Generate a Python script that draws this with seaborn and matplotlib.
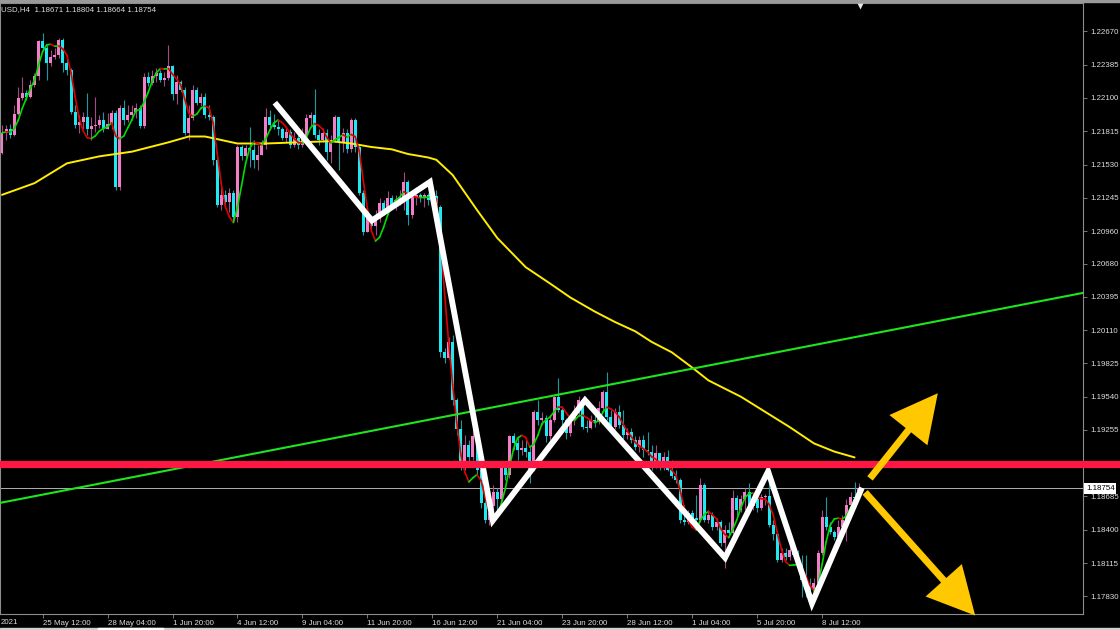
import numpy as np
import pandas as pd
import matplotlib
matplotlib.use("Agg")
import matplotlib.pyplot as plt
import matplotlib.transforms as mtransforms
from matplotlib.collections import LineCollection
from matplotlib.patches import Rectangle
import seaborn as sns

# ---------------- data (EURUSD H4) ----------------
header_text = "USD,H4  1.18671 1.18804 1.18664 1.18754"
first_open = 1.2163

closes = [
    1.2180, 1.2183, 1.2178, 1.2196, 1.2210, 1.2214, 1.2211, 1.2221, 1.2229, 1.2259,
    1.2253, 1.2240, 1.2245, 1.2247, 1.2260, 1.2240, 1.2234, 1.2198, 1.2187, 1.2189,
    1.2194, 1.2183, 1.2186, 1.2187, 1.2191, 1.2183, 1.2188, 1.2197, 1.2134, 1.2201,
    1.2191, 1.2195, 1.2198, 1.2201, 1.2186, 1.2228, 1.2223, 1.2229, 1.2231, 1.2225,
    1.2227, 1.2237, 1.2213, 1.2224, 1.2217, 1.2180, 1.2193, 1.2217, 1.2206, 1.2211,
    1.2195, 1.2194, 1.2157, 1.2118, 1.2127, 1.2121, 1.2129, 1.2108, 1.2168, 1.2160,
    1.2167, 1.2165, 1.2157, 1.2161, 1.2170, 1.2194, 1.2187, 1.2185, 1.2183, 1.2176,
    1.2181, 1.2170, 1.2176, 1.2170, 1.2177, 1.2193, 1.2195, 1.2178, 1.2174, 1.2180,
    1.2164, 1.2174, 1.2194, 1.2172, 1.2180, 1.2166, 1.2191, 1.2168, 1.2129, 1.2095,
    1.2108, 1.2100, 1.2106, 1.2120, 1.2114, 1.2124, 1.2118, 1.2123, 1.2125, 1.2138,
    1.2110, 1.2125, 1.2127, 1.2124, 1.2127, 1.2123, 1.2126, 1.2117, 1.1992, 1.1987,
    1.2001, 1.1951, 1.1926, 1.1897, 1.1913, 1.1902, 1.1920, 1.1891, 1.1863, 1.1848,
    1.1860, 1.1872, 1.1866, 1.1893, 1.1887, 1.1920, 1.1914, 1.1908, 1.1910, 1.1907,
    1.1891, 1.1941, 1.1934, 1.1936, 1.1920, 1.1934, 1.1954, 1.1943, 1.1934, 1.1923,
    1.1934, 1.1941, 1.1951, 1.1928, 1.1927, 1.1934, 1.1932, 1.1944, 1.1958, 1.1937,
    1.1928, 1.1941, 1.1930, 1.1921, 1.1924, 1.1917, 1.1911, 1.1917, 1.1908, 1.1907,
    1.1896, 1.1906, 1.1894, 1.1902, 1.1891, 1.1886, 1.1883, 1.1848, 1.1847, 1.1854,
    1.1850, 1.1848, 1.1878, 1.1848, 1.1853, 1.1842, 1.1847, 1.1829, 1.1840, 1.1837,
    1.1867, 1.1857, 1.1866, 1.1872, 1.1860, 1.1866, 1.1859, 1.1868, 1.1869, 1.1844,
    1.1836, 1.1814, 1.1820, 1.1817, 1.1823, 1.1818, 1.1810, 1.1797, 1.1793, 1.1788,
    1.1794, 1.1820, 1.1851, 1.1842, 1.1838, 1.1834, 1.1842, 1.1848, 1.1861, 1.1868,
    1.18671, 1.18754,
]

highs = [
    1.2187, 1.2187, 1.2188, 1.2204, 1.2219, 1.2228, 1.2217, 1.2225, 1.2231, 1.2260,
    1.2266, 1.2255, 1.2251, 1.2253, 1.2261, 1.2261, 1.2243, 1.2236, 1.2204, 1.2195,
    1.2198, 1.2214, 1.2194, 1.2211, 1.2195, 1.2198, 1.2197, 1.2200, 1.2200, 1.2204,
    1.2208, 1.2204, 1.2204, 1.2206, 1.2204, 1.2231, 1.2232, 1.2234, 1.2236, 1.2234,
    1.2232, 1.2255, 1.2238, 1.2230, 1.2225, 1.2219, 1.2204, 1.2221, 1.2219, 1.2214,
    1.2214, 1.2204, 1.2195, 1.2161, 1.2133, 1.2131, 1.2133, 1.2131, 1.2170, 1.2170,
    1.2170, 1.2185, 1.2174, 1.2170, 1.2174, 1.2201, 1.2200, 1.2196, 1.2191, 1.2185,
    1.2184, 1.2183, 1.2181, 1.2178, 1.2184, 1.2196, 1.2198, 1.2218, 1.2183, 1.2184,
    1.2183, 1.2178, 1.2195, 1.2193, 1.2184, 1.2183, 1.2193, 1.2193, 1.2170, 1.2131,
    1.2112, 1.2110, 1.2114, 1.2124, 1.2123, 1.2130, 1.2127, 1.2127, 1.2131, 1.2147,
    1.2140, 1.2127, 1.2131, 1.2129, 1.2129, 1.2129, 1.2129, 1.2131, 1.2118, 1.1996,
    1.2005, 1.2007, 1.1953, 1.1934, 1.1921, 1.1917, 1.1926, 1.1921, 1.1896, 1.1870,
    1.1874, 1.1878, 1.1876, 1.1896, 1.1898, 1.1921, 1.1923, 1.1920, 1.1917, 1.1917,
    1.1913, 1.1943, 1.1951, 1.1941, 1.1938, 1.1938, 1.1955, 1.1970, 1.1944, 1.1936,
    1.1938, 1.1947, 1.1955, 1.1953, 1.1934, 1.1938, 1.1941, 1.1950, 1.1960, 1.1975,
    1.1943, 1.1944, 1.1947, 1.1943, 1.1927, 1.1927, 1.1920, 1.1920, 1.1921, 1.1924,
    1.1913, 1.1913, 1.1904, 1.1907, 1.1908, 1.1900, 1.1891, 1.1884, 1.1861, 1.1857,
    1.1857, 1.1870, 1.1884, 1.1880, 1.1857, 1.1855, 1.1850, 1.1848, 1.1844, 1.1847,
    1.1874, 1.1870, 1.1870, 1.1876, 1.1880, 1.1870, 1.1869, 1.1871, 1.1871, 1.1893,
    1.1848, 1.1838, 1.1824, 1.1824, 1.1827, 1.1827, 1.1823, 1.1818, 1.1818, 1.1799,
    1.1799, 1.1823, 1.1857, 1.1868, 1.1847, 1.1840, 1.1848, 1.1853, 1.1866, 1.1872,
    1.1881, 1.18804,
]

lows = [
    1.2162, 1.2174, 1.2176, 1.2177, 1.2195, 1.2208, 1.2208, 1.2210, 1.2219, 1.2225,
    1.2251, 1.2225, 1.2237, 1.2243, 1.2244, 1.2232, 1.2230, 1.2196, 1.2184, 1.2180,
    1.2183, 1.2178, 1.2174, 1.2181, 1.2184, 1.2181, 1.2183, 1.2183, 1.2131, 1.2131,
    1.2187, 1.2189, 1.2191, 1.2193, 1.2184, 1.2184, 1.2220, 1.2221, 1.2224, 1.2224,
    1.2220, 1.2225, 1.2208, 1.2205, 1.2215, 1.2178, 1.2174, 1.2191, 1.2204, 1.2203,
    1.2193, 1.2191, 1.2153, 1.2117, 1.2114, 1.2116, 1.2112, 1.2104, 1.2104, 1.2157,
    1.2157, 1.2151, 1.2150, 1.2148, 1.2161, 1.2166, 1.2184, 1.2183, 1.2178, 1.2174,
    1.2172, 1.2167, 1.2168, 1.2166, 1.2168, 1.2176, 1.2186, 1.2176, 1.2170, 1.2172,
    1.2157, 1.2154, 1.2172, 1.2148, 1.2164, 1.2163, 1.2164, 1.2164, 1.2127, 1.2093,
    1.2095, 1.2097, 1.2093, 1.2104, 1.2110, 1.2112, 1.2116, 1.2114, 1.2118, 1.2114,
    1.2101, 1.2107, 1.2118, 1.2121, 1.2117, 1.2118, 1.2119, 1.2115, 1.1988, 1.1983,
    1.1986, 1.1947, 1.1921, 1.1891, 1.1891, 1.1898, 1.1900, 1.1887, 1.1859, 1.1846,
    1.1844, 1.1855, 1.1857, 1.1861, 1.1883, 1.1884, 1.1908, 1.1900, 1.1904, 1.1902,
    1.1880, 1.1890, 1.1930, 1.1930, 1.1915, 1.1917, 1.1932, 1.1941, 1.1930, 1.1918,
    1.1920, 1.1930, 1.1938, 1.1926, 1.1924, 1.1926, 1.1928, 1.1931, 1.1943, 1.1934,
    1.1926, 1.1926, 1.1927, 1.1918, 1.1918, 1.1914, 1.1908, 1.1907, 1.1902, 1.1904,
    1.1891, 1.1893, 1.1891, 1.1891, 1.1890, 1.1884, 1.1880, 1.1846, 1.1844, 1.1845,
    1.1848, 1.1847, 1.1847, 1.1847, 1.1846, 1.1840, 1.1840, 1.1826, 1.1807, 1.1834,
    1.1836, 1.1853, 1.1855, 1.1857, 1.1857, 1.1857, 1.1855, 1.1857, 1.1861, 1.1842,
    1.1831, 1.1812, 1.1812, 1.1814, 1.1814, 1.1816, 1.1807, 1.1782, 1.1782, 1.1780,
    1.1782, 1.1792, 1.1818, 1.1840, 1.1836, 1.1831, 1.1831, 1.1840, 1.1830, 1.1855,
    1.1862, 1.18664,
]

# slow moving average (yellow), sampled at bar indices
yellow_ma_bar = [0, 8, 16, 24, 32, 41, 46, 50, 54, 58, 65, 73, 81, 86, 91, 96, 100,
                 105, 107, 111, 117, 122, 129, 135, 140, 146, 151, 156, 160, 165,
                 170, 174, 182, 188, 194, 200, 205, 210]
yellow_ma_val = [1.2127, 1.2137, 1.2154, 1.2160, 1.2164, 1.2172, 1.2177, 1.2177,
                 1.2174, 1.2171, 1.2171, 1.2172, 1.2173, 1.2171, 1.2168, 1.2166,
                 1.2162, 1.2159, 1.2157, 1.2144, 1.2114, 1.2090, 1.2065, 1.2051,
                 1.2039, 1.2027, 1.2018, 1.2010, 1.2001, 1.1992, 1.1979, 1.1968,
                 1.1954, 1.1941, 1.1928, 1.1914, 1.1907, 1.1902]

price_ticks = [1.22670, 1.22385, 1.22100, 1.21815, 1.21530, 1.21245, 1.20960,
               1.20680, 1.20395, 1.20110, 1.19825, 1.19540, 1.19255, 1.18970,
               1.18685, 1.18400, 1.18115, 1.17830]
time_tick_bars = [10, 26, 42, 58, 74, 90, 106, 122, 138, 154, 170, 186, 202]
time_tick_labels = ["25 May 12:00", "28 May 04:00", "1 Jun 20:00", "4 Jun 12:00",
                    "9 Jun 04:00", "11 Jun 20:00", "16 Jun 12:00", "21 Jun 04:00",
                    "23 Jun 20:00", "28 Jun 12:00", "1 Jul 04:00", "5 Jul 20:00",
                    "8 Jul 12:00"]
first_label = "2021"

trend_bars = [-0.5, 266.3]
trend_prices = [1.18630, 1.20430]
resistance_price = 1.18960
bid_price = 1.18754

zigzag_bars = [67.2, 91.1, 105.4, 120.9, 143.6, 178.1, 188.7, 199.5, 211.8]
zigzag_prices = [1.2206, 1.2105, 1.2138, 1.1848, 1.1951, 1.1816, 1.1890, 1.1777, 1.1876]

arrow_up = (213.8, 1.1884, 230.5, 1.1957)      # start bar, start price, tip bar, tip price
arrow_down = (212.6, 1.1872, 239.7, 1.17665)

# ---------------- style ----------------
sns.set_theme(style="dark")
plt.rcParams["font.family"] = ["Liberation Sans", "DejaVu Sans"]

BULL = "#f27ec8"
BEAR = "#1ee8f2"
BULL_WICK = "#a04c80"
BEAR_WICK = "#1c9aa0"
TXT = "#dcdcdc"
FRAME = "#8c8c8c"

fig = plt.figure(figsize=(11.2, 6.3), dpi=100, facecolor="black")
ax = fig.add_axes([0, 16 / 630, 1083 / 1120, 611 / 630])
ax.set_facecolor("black")

x = np.arange(len(closes))
c = np.array(closes)
o = np.array([first_open] + closes[:-1])
h = np.maximum(np.array(highs), np.maximum(o, c))
l = np.minimum(np.array(lows), np.minimum(o, c))
bull = c >= o

ax.vlines(x, l, h, colors=np.where(bull, BULL_WICK, BEAR_WICK), lw=0.8, zorder=2)
ax.bar(x, np.maximum(np.abs(c - o), 0.00009), bottom=np.minimum(o, c), width=0.74,
       color=np.where(bull, BULL, BEAR), linewidth=0, zorder=2.2)

# slow MA (yellow)
sns.lineplot(x=yellow_ma_bar, y=yellow_ma_val, ax=ax, color="#ffee00", lw=1.4,
             sort=False, estimator=None, zorder=3)


# fast Hull MA, coloured by direction
def wma(s, n):
    w = np.arange(1, n + 1, dtype=float)
    return s.rolling(n, min_periods=1).apply(
        lambda a: np.dot(a, w[-len(a):]) / w[-len(a):].sum(), raw=True)


s = pd.Series(c)
n = 10
hma = wma(2 * wma(s, n // 2) - wma(s, n), int(np.sqrt(n))).to_numpy()
pts = np.column_stack([x, hma])
segs = np.stack([pts[:-1], pts[1:]], axis=1)
seg_cols = np.where(np.diff(hma) >= 0, "#00dd00", "#e00000")
ax.add_collection(LineCollection(segs, colors=seg_cols, lw=1.2, zorder=3.2,
                                 capstyle="round", joinstyle="round"))

# green trend line
sns.lineplot(x=trend_bars, y=trend_prices, ax=ax, color="#1ee61e", lw=1.5,
             sort=False, estimator=None, zorder=3.4)

# bid line
ax.axhline(bid_price, color="#b0b0b0", lw=0.7, zorder=1.5)

# white zigzag
ax.plot(zigzag_bars, zigzag_prices, color="white", lw=4.2, solid_joinstyle="miter",
        solid_capstyle="butt", zorder=5)

# red horizontal level (extends over the price scale)
ax.axhline(resistance_price, xmin=0, xmax=1120 / 1083, color="#ff1744", lw=5.2,
           clip_on=False, zorder=6)

# yellow arrows
for sx, sy, ex, ey in (arrow_up, arrow_down):
    an = ax.annotate("", xy=(ex, ey), xytext=(sx, sy), annotation_clip=False,
                     arrowprops=dict(arrowstyle="simple,head_length=3.4,head_width=3.5,tail_width=0.5",
                                     mutation_scale=10, fc="#ffc800", ec="none",
                                     shrinkA=0, shrinkB=0), zorder=7)
    an.arrow_patch.set_clip_on(False)

# axes limits and scales
ax.set_xlim(-0.49, 266.26)
ax.set_ylim(1.17678, 1.22914)
ax.grid(False)
for sp in ax.spines.values():
    sp.set_color(FRAME)
    sp.set_linewidth(0.8)

ax.yaxis.tick_right()
ax.set_yticks(price_ticks)
ax.set_yticklabels([f"{p:.5f}" for p in price_ticks])
ax.tick_params(axis="y", which="both", direction="out", length=3, width=0.6,
               color=FRAME, labelcolor=TXT, labelsize=5.7, pad=2, right=True, left=False)
ax.set_xticks(time_tick_bars)
ax.set_xticklabels(time_tick_labels, ha="left")
ax.tick_params(axis="x", direction="out", length=3, width=0.6, color=FRAME,
               labelcolor=TXT, labelsize=5.7, pad=1, bottom=True)
ax.set_xlabel("")
ax.set_ylabel("")

# current price box
btrans = mtransforms.blended_transform_factory(ax.transAxes, ax.transData)
ax.text(1 + 3 / 1083, bid_price, f"{bid_price:.5f}", transform=btrans, ha="left",
        va="center", fontsize=5.7, color="black", clip_on=False, zorder=8,
        bbox=dict(boxstyle="square,pad=0.2", fc="white", ec="none"))

# chart shift marker
ttrans = mtransforms.blended_transform_factory(ax.transData, ax.transAxes)
ax.plot([211.3], [1 - 3 / 611], marker="v", ms=5, color="#e8e8e8", mec="none",
        transform=ttrans, clip_on=False, zorder=8)

# header and first (cut) date label
fig.text(1 / 1120, 1 - 9.5 / 630, header_text, ha="left", va="center",
         fontsize=5.7, color=TXT)
fig.text(1 / 1120, 8 / 630, first_label, ha="left", va="center", fontsize=5.7, color=TXT)

# window chrome strips
fig.patches.append(Rectangle((0, 0), 1, 2.5 / 630, transform=fig.transFigure,
                             color="#cfcfcf", zorder=0))
fig.patches.append(Rectangle((98 / 1120, 0), 65 / 1120, 2.5 / 630, transform=fig.transFigure,
                             color="white", zorder=1))
fig.patches.append(Rectangle((0, 1 - 1.5 / 630), 1, 1.5 / 630, transform=fig.transFigure,
                             color="#9a9a9a", zorder=0))

fig.savefig("out.png", dpi=100, facecolor="black")
